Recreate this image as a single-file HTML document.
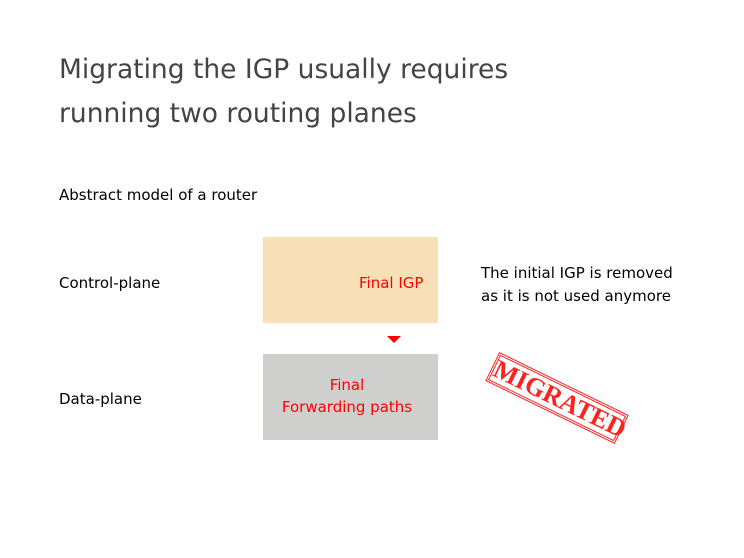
<!DOCTYPE html>
<html><head><style>
body{margin:0;width:744px;height:558px;background:#fff;position:relative;overflow:hidden;font-family:"DejaVu Sans","Liberation Sans",sans-serif;}
.a{position:absolute;white-space:nowrap;}
</style></head><body>
<div class="a" style="left:59px;top:48px;font-size:26.5px;color:#444;line-height:44px;">Migrating the IGP usually requires<br>running two routing planes</div>
<div class="a" style="left:59px;top:186px;font-size:15px;color:#000;">Abstract model of a router</div>
<div class="a" style="left:59px;top:274px;font-size:15px;color:#000;">Control-plane</div>
<div class="a" style="left:59px;top:390px;font-size:15px;color:#000;">Data-plane</div>
<div class="a" style="left:263px;top:237px;width:175px;height:86px;background:#f7e0b7;"></div>
<div class="a" style="left:359px;top:274px;font-size:15px;color:#f00;">Final IGP</div>
<div class="a" style="left:387px;top:336px;width:0;height:0;border-left:7px solid transparent;border-right:7px solid transparent;border-top:7px solid #f00;"></div>
<div class="a" style="left:263px;top:354px;width:175px;height:86px;background:#cfcfcd;"></div>
<div class="a" style="left:263px;top:374px;width:168px;text-align:center;font-size:15px;color:#f00;line-height:22px;">Final<br>Forwarding paths</div>
<div class="a" style="left:481px;top:262px;font-size:15px;color:#000;line-height:23px;">The initial IGP is removed<br>as it is not used anymore</div>
<div class="a" style="left:485px;top:382px;width:138px;height:26px;border:3px double #f22;transform:rotate(26deg);transform-origin:center;text-align:center;font-family:'Liberation Serif',serif;font-weight:bold;font-size:26px;line-height:26px;color:#f22;letter-spacing:0px;">MIGRATED</div>
</body></html>
